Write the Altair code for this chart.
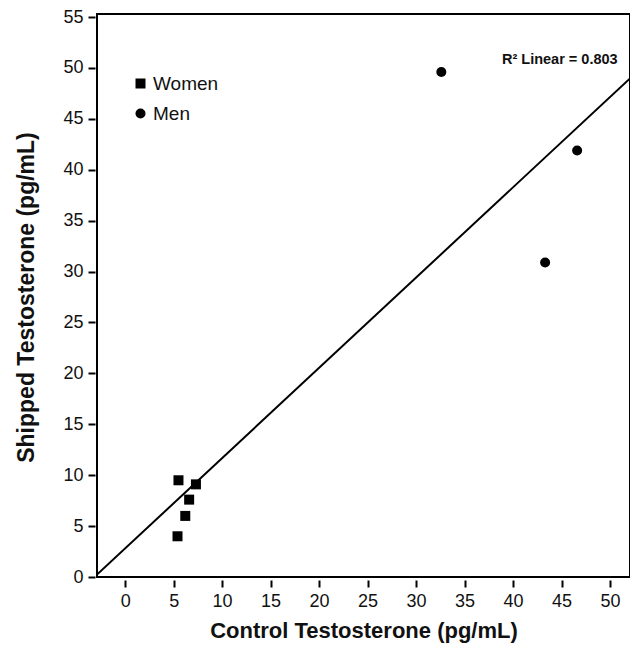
import altair as alt
import pandas as pd

groups = ["Women"] * 5 + ["Men"] * 3
control = [5.5, 7.3, 6.6, 6.2, 5.4, 32.6, 46.6, 43.3]
shipped = [9.5, 9.1, 7.6, 6.0, 4.0, 49.6, 41.9, 30.9]

x_ticks = list(range(0, 55, 5))
y_ticks = list(range(0, 60, 5))
x_domain = [-2.9, 52.05]
y_domain = [0, 55.3]

r2_text = ["R\u00b2 Linear = 0.803"]
r2_x = [38.85]
r2_y = [50.8]

df = pd.DataFrame({"group": groups, "control": control, "shipped": shipped})
ann = pd.DataFrame({"text": r2_text, "x": r2_x, "y": r2_y})

FONT = "Liberation Sans"

xenc = alt.X("control:Q", scale=alt.Scale(domain=x_domain, nice=False, zero=False),
             axis=alt.Axis(values=x_ticks, title="Control Testosterone (pg/mL)",
                           domain=False, grid=False, offset=3, tickSize=7, tickWidth=2,
                           tickColor="black", labelPadding=5, labelFontSize=18,
                           labelColor="#111", labelFont=FONT, titleFont=FONT,
                           titleFontSize=22, titleFontWeight="bold", titleColor="#111",
                           titlePadding=10, labelFlush=False))
yenc = alt.Y("shipped:Q", scale=alt.Scale(domain=y_domain, nice=False, zero=False),
             axis=alt.Axis(values=y_ticks, title="Shipped Testosterone (pg/mL)",
                           domain=False, grid=False, offset=2, tickSize=7, tickWidth=2,
                           tickColor="black", labelPadding=5, labelFontSize=18,
                           labelColor="#111", labelFont=FONT, titleFont=FONT,
                           titleFontSize=23, titleFontWeight="bold", titleColor="#111",
                           titlePadding=24, titleY=283, labelFlush=False))

points = alt.Chart(df).mark_point(filled=True, opacity=1, color="black", size=100).encode(
    x=xenc, y=yenc,
    shape=alt.Shape("group:N",
                    scale=alt.Scale(domain=["Women", "Men"], range=["square", "circle"]),
                    legend=alt.Legend(title=None, orient="none", legendX=34, legendY=60,
                                      labelFontSize=19, labelFont=FONT, labelColor="#111",
                                      symbolSize=100, symbolFillColor="black",
                                      symbolStrokeColor="black", symbolType="square",
                                      rowPadding=10, labelOffset=3, padding=0)),
)

line = alt.Chart(df).transform_regression(
    "control", "shipped", extent=x_domain
).mark_line(color="black", strokeWidth=2, clip=True).encode(
    x=alt.X("control:Q"), y=alt.Y("shipped:Q")
)

text = alt.Chart(ann).mark_text(align="left", baseline="middle", fontSize=14.5,
                                font=FONT, fontWeight="bold", color="#111").encode(
    x="x:Q", y="y:Q", text="text:N"
)

chart = alt.layer(line, points, text).properties(
    width=533, height=563,
    autosize=alt.AutoSizeParams(type="none"),
    padding={"left": 89, "top": 6, "right": 0, "bottom": 67},
).configure(background="white").configure_view(stroke="black", strokeWidth=2)

chart.save("out.html", embed_options={"renderer": "svg", "actions": False})
